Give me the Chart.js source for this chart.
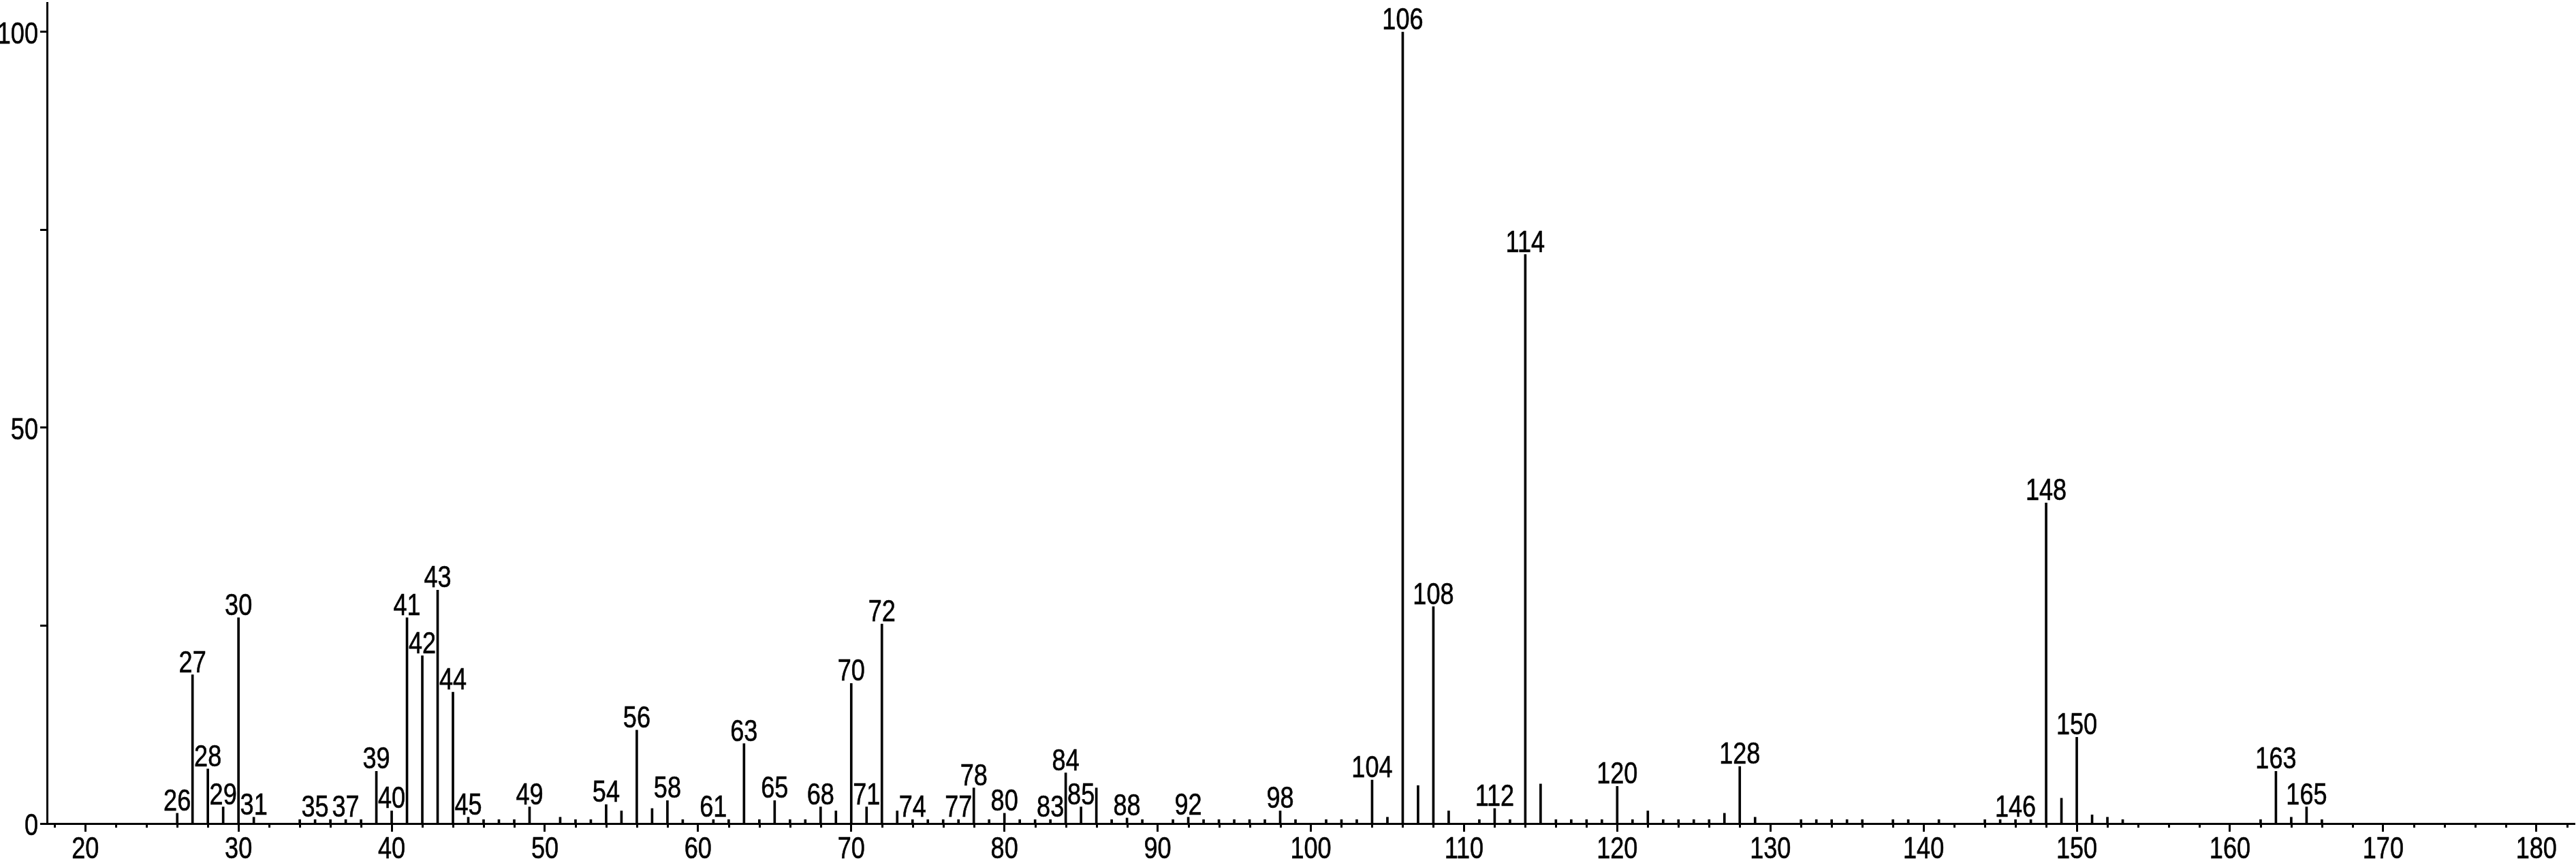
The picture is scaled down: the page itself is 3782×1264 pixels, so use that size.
<!DOCTYPE html>
<html>
<head>
<meta charset="utf-8">
<script src="https://cdn.jsdelivr.net/npm/chart.js@4.4.1/dist/chart.umd.min.js"></script>
<style>
html, body { margin: 0; padding: 0; background: #fff; }
#wrap { width: 3782px; height: 1264px; position: relative; }
</style>
</head>
<body>
<div id="wrap"><canvas id="chart_massSpectrum"></canvas></div>
<script>
// m/z of every peak and its relative intensity (%)
var mzValues = [
    26, 27, 28, 29, 30, 31, 34, 35, 36, 37, 38, 39, 40, 41, 42, 43, 44, 45, 46, 47, 48, 49,
    51, 52, 53, 54, 55, 56, 57, 58, 59, 61, 62, 63, 64, 65, 66, 67, 68, 69, 70, 71, 72, 73,
    74, 75, 76, 77, 78, 79, 80, 81, 82, 83, 84, 85, 86, 87, 88, 89, 91, 92, 93, 94, 95, 96,
    97, 98, 99, 101, 102, 103, 104, 105, 106, 107, 108, 109, 111, 112, 113, 114, 115, 116,
    117, 118, 119, 120, 121, 122, 123, 124, 125, 126, 127, 128, 129, 132, 133, 134, 135,
    136, 138, 139, 141, 144, 145, 146, 147, 148, 149, 150, 151, 152, 153, 162, 163, 164,
    165, 166
];
var intensities = [
    1.3, 18.8, 6.9, 2.1, 26.0, 0.8, 0.5, 0.5, 0.5, 0.5, 0.5, 6.6, 1.6, 26.0, 21.2, 29.5, 16.6, 0.8, 0.5, 0.5, 0.5, 2.1,
    0.8, 0.5, 0.5, 2.4, 1.6, 11.8, 1.9, 2.9, 0.5, 0.5, 0.5, 10.1, 0.5, 2.9, 0.5, 0.5, 2.1, 1.6, 17.7, 2.1, 25.2, 1.6,
    0.5, 0.5, 0.5, 0.5, 4.5, 0.5, 1.3, 0.5, 0.5, 0.5, 6.4, 2.1, 4.5, 0.5, 0.7, 0.5, 0.5, 0.8, 0.5, 0.5, 0.5, 0.5,
    0.5, 1.6, 0.5, 0.5, 0.5, 0.5, 5.5, 0.8, 100, 4.8, 27.4, 1.6, 0.5, 1.9, 0.5, 71.9, 5.0, 0.5,
    0.5, 0.5, 0.5, 4.7, 0.5, 1.6, 0.5, 0.5, 0.5, 0.5, 1.3, 7.2, 0.8, 0.5, 0.5, 0.5, 0.5,
    0.5, 0.5, 0.5, 0.5, 0.5, 0.5, 0.5, 0.5, 40.5, 3.2, 10.9, 1.1, 0.8, 0.5, 0.5, 6.6, 0.8,
    2.1, 0.5
];
// peaks that carry an m/z annotation
var labeledMz = [
    26, 27, 28, 29, 30, 31, 35, 37, 39, 40, 41, 42, 43, 44, 45, 49, 54, 56, 58, 61, 63, 65,
    68, 70, 71, 72, 74, 77, 78, 80, 83, 84, 85, 88, 92, 98, 104, 106, 108, 112, 114, 120,
    128, 146, 148, 150, 163, 165
];
// axis ticks
var xMajorTicks = [20, 30, 40, 50, 60, 70, 80, 90, 100, 110, 120, 130, 140, 150, 160, 170, 180];
var xMinorStep = 2;
var yTicks = [0, 25, 50, 75, 100];
var yLabelledTicks = [0, 50, 100];

// the original uses a tall, narrow sans face; squeeze Liberation Sans to match
var fontFamily = "'Liberation Sans', Arial, sans-serif";
var fontSize = 44;
var textSqueeze = 0.82;
Chart.defaults.font.family = fontFamily;
Chart.defaults.color = '#000';

function drawNarrowText(ctx, text, x, y, align) {
    ctx.save();
    ctx.translate(x, y);
    ctx.scale(textSqueeze, 1);
    ctx.font = fontSize + 'px ' + fontFamily;
    ctx.fillStyle = '#000';
    ctx.strokeStyle = '#000';
    ctx.lineWidth = 0.6;
    ctx.textAlign = align;
    ctx.textBaseline = 'alphabetic';
    ctx.fillText(text, 0, 0);
    ctx.strokeText(text, 0, 0);
    ctx.restore();
}

var axisTextPlugin = {
    id: 'axisText',
    afterDraw: function (chart) {
        var xs = chart.scales.x, ys = chart.scales.y;
        var ctx = chart.ctx;
        var bottom = chart.chartArea.bottom;
        // minor x ticks, shorter than the labelled ones
        ctx.save();
        ctx.strokeStyle = '#000';
        ctx.lineWidth = 3;
        ctx.beginPath();
        xs.ticks.forEach(function (t) {
            if (xMajorTicks.indexOf(t.value) >= 0) return;
            var px = Math.round(xs.getPixelForValue(t.value)) + 0.5;
            ctx.moveTo(px, bottom);
            ctx.lineTo(px, bottom + 6);
        });
        ctx.stroke();
        ctx.restore();
        xMajorTicks.forEach(function (v) {
            drawNarrowText(ctx, String(v), xs.getPixelForValue(v), bottom + 51, 'center');
        });
        yLabelledTicks.forEach(function (v) {
            drawNarrowText(ctx, String(v), chart.chartArea.left - 13, ys.getPixelForValue(v) + 17, 'right');
        });
    }
};

var peakLabelPlugin = {
    id: 'peakLabels',
    afterDatasetsDraw: function (chart) {
        var ctx = chart.ctx;
        var meta = chart.getDatasetMeta(0);
        meta.data.forEach(function (bar, i) {
            if (labeledMz.indexOf(mzValues[i]) < 0) return;
            drawNarrowText(ctx, String(mzValues[i]), bar.x, bar.y - 4, 'center');
        });
    }
};

var chart_massSpectrum = new Chart(document.getElementById('chart_massSpectrum'), {
    type: 'bar',
    data: {
        datasets: [{
            label: 'Relative intensity',
            data: mzValues.map(function (m, i) { return { x: m, y: intensities[i] }; }),
            backgroundColor: '#000',
            borderWidth: 0,
            barThickness: 3
        }]
    },
    options: {
        animation: false,
        responsive: true,
        maintainAspectRatio: false,
        layout: { padding: { top: 4, right: 2, left: 0, bottom: 0 } },
        plugins: {
            legend: { display: false },
            tooltip: { enabled: false }
        },
        scales: {
            x: {
                type: 'linear',
                min: 17.5,
                max: 182.5,
                offset: false,
                afterBuildTicks: function (scale) {
                    var list = [];
                    for (var v = 18; v <= 182; v += xMinorStep) list.push({ value: v });
                    scale.ticks = list;
                },
                afterFit: function (scale) { scale.height = 55; },
                ticks: { display: false, autoSkip: false },
                grid: {
                    offset: false,
                    drawOnChartArea: false,
                    tickLength: 12,
                    tickWidth: 3,
                    tickColor: function (c) {
                        return c.tick && xMajorTicks.indexOf(c.tick.value) >= 0 ? '#000' : 'rgba(0,0,0,0)';
                    }
                },
                border: { display: true, color: '#000', width: 3 }
            },
            y: {
                type: 'linear',
                min: 0,
                max: 103.7,
                afterBuildTicks: function (scale) {
                    scale.ticks = yTicks.map(function (v) { return { value: v }; });
                },
                afterFit: function (scale) { scale.width = 69; },
                ticks: { display: false },
                grid: {
                    drawOnChartArea: false,
                    tickLength: 10,
                    tickWidth: 3,
                    tickColor: '#000'
                },
                border: { display: true, color: '#000', width: 3 }
            }
        }
    },
    plugins: [axisTextPlugin, peakLabelPlugin, {
        id: 'whiteBackground',
        beforeDraw: function (chart) {
            var ctx = chart.canvas.getContext('2d');
            ctx.save();
            ctx.globalCompositeOperation = 'destination-over';
            ctx.fillStyle = 'white';
            ctx.fillRect(0, 0, chart.canvas.width, chart.canvas.height);
            ctx.restore();
        }
    }]
});
</script>
</body>
</html>
